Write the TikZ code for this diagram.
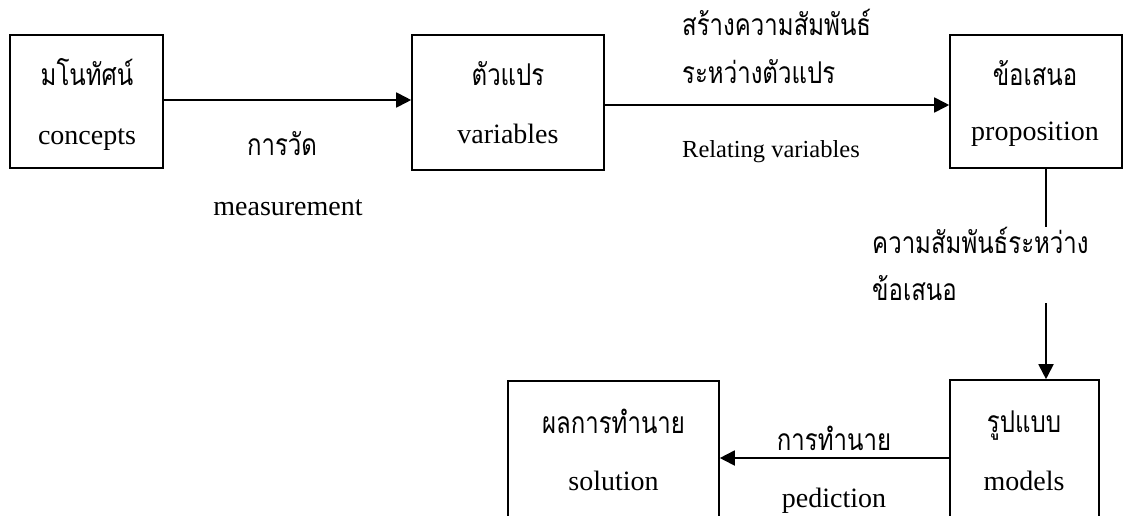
\documentclass[tikz,border=0pt]{standalone}
\usepackage{fontspec}
\setmainfont{Liberation Serif}
\newfontfamily\thaifont[Script=Thai,FakeStretch=0.8]{Loma}
\usetikzlibrary{arrows.meta}
\begin{document}
\begin{tikzpicture}[x=1pt,y=-1pt,
  box/.style={draw, line width=1.6pt, inner sep=0pt},
  conn/.style={line width=1.8pt, -{Triangle[length=15pt,width=15pt]}},
  plain/.style={line width=1.8pt},
  th/.style={inner sep=0pt, font=\thaifont\fontsize{30}{34}\selectfont},
  en/.style={inner sep=0pt, font=\fontsize{28}{32}\selectfont},
  ensmall/.style={inner sep=0pt, font=\fontsize{24.5}{28}\selectfont}]
\useasboundingbox (0,0) rectangle (1124,515);
\clip (0,0) rectangle (1124,515);
% boxes
\node[box, minimum width=153pt, minimum height=133pt] (b1) at (86.5,101.5) {};
\node[box, minimum width=192pt, minimum height=135pt] (b2) at (508,102.5) {};
\node[box, minimum width=172pt, minimum height=133pt] (b3) at (1036,101.5) {};
\node[box, minimum width=149pt, minimum height=150pt] (b4) at (1024.5,455) {};
\node[box, minimum width=211pt, minimum height=150pt] (b5) at (613.5,456) {};
% box texts
\node[th, anchor=base] (t1a) at (87,85) {มโนทัศน์};
\node[en, anchor=base] (t1b) at (87,144) {concepts};
\node[th, anchor=base] (t2a) at (508,85) {ตัวแปร};
\node[en, anchor=base] (t2b) at (508,143) {variables};
\node[th, anchor=base] (t3a) at (1035,85) {ข้อเสนอ};
\node[en, anchor=base] (t3b) at (1035,140) {proposition};
\node[th, anchor=base] (t4a) at (1024,432) {รูปแบบ};
\node[en, anchor=base] (t4b) at (1024,490) {models};
\node[th, anchor=base] (t5a) at (613.5,433) {ผลการทำนาย};
\node[en, anchor=base] (t5b) at (613.5,490) {solution};
% connector labels
\node[th, anchor=base] (l1a) at (282,155) {การวัด};
\node[en, anchor=base] (l1b) at (288,215) {measurement};
\node[th, anchor=base west] (l2a) at (682,35) {สร้างความสัมพันธ์};
\node[th, anchor=base west] (l2b) at (682,83) {ระหว่างตัวแปร};
\node[ensmall, anchor=base west] (l2c) at (682,157) {Relating variables};
\node[th, anchor=base west] (l3a) at (872,253) {ความสัมพันธ์ระหว่าง};
\node[th, anchor=base west] (l3b) at (872,300) {ข้อเสนอ};
\node[th, anchor=base] (l4a) at (834,450) {การทำนาย};
\node[en, anchor=base] (l4b) at (834,507) {pediction};
% connectors
\coordinate (y1) at (0,100);
\coordinate (y2) at (0,105);
\coordinate (y4) at (0,458);
\coordinate (g1) at (1046,227);
\coordinate (g2) at (1046,303);
\draw[conn] (b1.east |- y1) -- (b2.west |- y1);
\draw[conn] (b2.east |- y2) -- (b3.west |- y2);
\draw[plain] (g1 |- b3.south) -- (g1);
\draw[conn] (g2) -- (g2 |- b4.north);
\draw[conn] (b4.west |- y4) -- (b5.east |- y4);
\end{tikzpicture}
\end{document}
